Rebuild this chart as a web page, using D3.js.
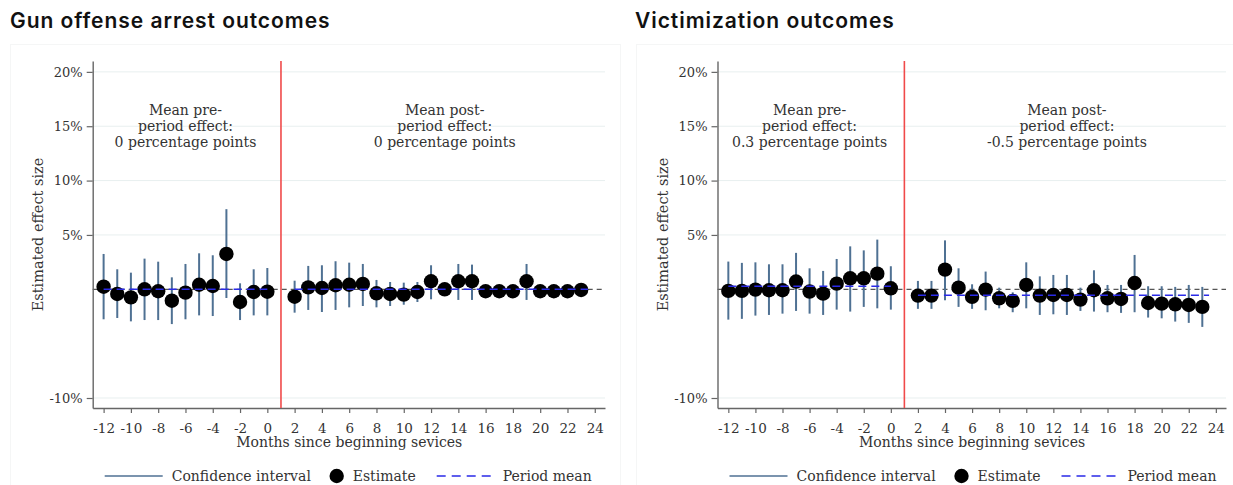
<!DOCTYPE html>
<html>
<head>
<meta charset="utf-8">
<script src="https://cdn.jsdelivr.net/npm/d3@7"></script>
<style>
  html, body { margin: 0; padding: 0; background: #fff; }
  svg { display: block; }
</style>
</head>
<body>
<svg id="chart" width="1233" height="485"></svg>
<script>
// ---------------- DATA ----------------
const months = [-12,-11,-10,-9,-8,-7,-6,-5,-4,-3,-2,-1,0,
                2,3,4,5,6,7,8,9,10,11,12,13,14,15,16,17,18,19,20,21,22,23];
const xTickValues = [-12,-10,-8,-6,-4,-2,0,2,4,6,8,10,12,14,16,18,20,22,24];
const yTickValues = [20,15,10,5,-10];
const treatmentMonth = 1;
const periodRanges = [[-12, 0], [2, 23.5]];

// Gun offense arrest outcomes (percentage points)
const gunEstimate = [0.24,-0.43,-0.74,0.0,-0.18,-1.05,-0.31,0.42,0.30,3.25,-1.17,-0.25,-0.22,
  -0.68,0.18,0.12,0.37,0.42,0.49,-0.37,-0.43,-0.49,-0.25,0.74,0.0,0.74,0.74,-0.18,-0.18,-0.18,0.74,-0.18,-0.18,-0.18,-0.06];
const gunLower = [-2.76,-2.64,-2.95,-2.83,-2.83,-3.2,-2.76,-2.4,-2.46,-0.8,-2.83,-2.4,-2.4,
  -2.15,-1.9,-2.09,-1.9,-1.66,-1.54,-1.66,-1.54,-1.42,-1.17,-0.92,-0.6,-0.98,-0.98,-0.7,-0.7,-0.7,-0.98,-0.7,-0.7,-0.7,-0.6];
const gunUpper = [3.25,1.84,1.53,2.82,2.54,1.1,2.33,3.31,3.13,7.37,0.55,1.84,1.96,
  0.79,2.15,2.21,2.58,2.45,2.33,0.86,0.67,0.61,0.67,2.21,0.6,2.33,2.27,0.4,0.4,0.4,2.33,0.4,0.4,0.4,0.5];
const gunPeriodMeans = [0.0, 0.0];
const gunMeanLabels = ["0 percentage points", "0 percentage points"];

// Victimization outcomes (percentage points)
const vicEstimate = [-0.15,-0.15,-0.03,-0.09,-0.09,0.71,-0.21,-0.4,0.52,1.01,1.01,1.44,0.09,
  -0.58,-0.58,1.81,0.15,-0.7,-0.03,-0.83,-1.07,0.4,-0.58,-0.52,-0.52,-0.95,-0.09,-0.83,-0.89,0.58,-1.26,-1.32,-1.38,-1.44,-1.62];
const vicLower = [-2.79,-2.72,-2.42,-2.36,-2.24,-1.99,-2.24,-2.36,-1.87,-2.05,-1.62,-1.75,-1.87,
  -1.8,-1.8,-1.01,-1.62,-1.8,-1.93,-1.75,-2.11,-1.75,-2.36,-2.3,-2.36,-1.99,-2.05,-2.11,-2.17,-2.11,-2.6,-2.67,-2.97,-3.09,-3.46];
const vicUpper = [2.55,2.43,2.48,2.3,2.3,3.35,1.93,1.69,2.79,3.95,3.58,4.57,2.12,
  0.77,0.77,4.5,1.93,0.46,1.63,0.15,-0.28,2.48,1.19,1.32,1.32,0.15,1.75,0.4,0.4,3.16,0.28,0.28,0.22,0.4,0.22];
const vicPeriodMeans = [0.28, -0.55];
const vicMeanLabels = ["0.3 percentage points", "-0.5 percentage points"];

const titles = ["Gun offense arrest outcomes", "Victimization outcomes"];
const yAxisTitle = "Estimated effect size";
const xAxisTitle = "Months since beginning sevices";
const legendLabels = ["Confidence interval", "Estimate", "Period mean"];

// ---------------- STYLE ----------------
const SERIF = "'DejaVu Serif', 'Liberation Serif', serif";
const SANS = "Inter, 'Open Sans', sans-serif";
const TXT = "#333";
const CI_COLOR = "#4f7193";
const MEAN_COLOR = "#2a2ae8";
const RED = "#f04a4a";

const svg = d3.select("#chart");

const panels = [
  { title: titles[0], est: gunEstimate, lo: gunLower, hi: gunUpper, means: gunPeriodMeans, labels: gunMeanLabels,
    boxX: 10, boxW: 610, titleX: 10, axisX: 92.7, right: 605 },
  { title: titles[1], est: vicEstimate, lo: vicLower, hi: vicUpper, means: vicPeriodMeans, labels: vicMeanLabels,
    boxX: 636, boxW: 620, titleX: 635, axisX: 717.5, right: 1226 }
];

const plotTop = 61, plotBottom = 408;

panels.forEach(p => {
  const g = svg.append("g");

  // faint outer frame
  g.append("rect").attr("x", p.boxX + 0.5).attr("y", 44.5).attr("width", p.boxW).attr("height", 460)
    .attr("fill", "none").attr("stroke", "#f5f6f6").attr("stroke-width", 1);

  // title
  g.append("text").attr("x", p.titleX).attr("y", 28)
    .attr("font-family", SANS).attr("font-weight", 600).attr("font-size", 21)
    .attr("letter-spacing", 0.95)
    .attr("fill", "#111").text(p.title);

  const x = d3.scaleLinear().domain([-12.8, 24.75]).range([p.axisX, p.right]);
  const y = d3.scaleLinear().domain([-10.92, 21.0]).range([plotBottom, plotTop]);

  // gridlines
  g.append("g").selectAll("line").data(yTickValues).join("line")
    .attr("x1", p.axisX).attr("x2", p.right)
    .attr("y1", d => y(d)).attr("y2", d => y(d))
    .attr("stroke", "#e8efef").attr("stroke-width", 1);

  // zero reference line
  g.append("line").attr("x1", p.axisX).attr("x2", p.right)
    .attr("y1", y(0)).attr("y2", y(0))
    .attr("stroke", "#555").attr("stroke-width", 1.3).attr("stroke-dasharray", "5,4");

  // y axis
  const yAxis = d3.axisLeft(y).tickValues(yTickValues).tickFormat(d => String(d) + "%").tickSize(6).tickSizeOuter(0).tickPadding(4);
  const ya = g.append("g").attr("transform", `translate(${p.axisX},0)`).call(yAxis);
  ya.select(".domain").attr("stroke", "#666").attr("stroke-width", 1.4);
  ya.selectAll(".tick line").attr("stroke", "#666").attr("stroke-width", 1.2);
  ya.selectAll(".tick text").attr("font-family", SERIF).attr("font-size", 13).attr("fill", TXT);

  // x axis
  const xAxis = d3.axisBottom(x).tickValues(xTickValues).tickFormat(d => String(d)).tickSize(5).tickSizeOuter(0).tickPadding(10);
  const xa = g.append("g").attr("transform", `translate(0,${plotBottom})`).call(xAxis);
  xa.select(".domain").attr("stroke", "#666").attr("stroke-width", 1.4);
  xa.selectAll(".tick line").attr("stroke", "#666").attr("stroke-width", 1.2);
  xa.selectAll(".tick text").attr("font-family", SERIF).attr("font-size", 13.5).attr("fill", TXT);

  // axis titles
  g.append("text").attr("x", (x(-12) + x(24)) / 2).attr("y", 447)
    .attr("text-anchor", "middle").attr("font-family", SERIF).attr("font-size", 14).attr("fill", TXT)
    .text(xAxisTitle);
  g.append("text").attr("transform", `translate(${p.axisX - 50},${(plotTop + plotBottom) / 2 + 0}) rotate(-90)`)
    .attr("text-anchor", "middle").attr("font-family", SERIF).attr("font-size", 14.5).attr("fill", TXT)
    .text(yAxisTitle);

  // treatment line
  g.append("line").attr("x1", x(treatmentMonth)).attr("x2", x(treatmentMonth))
    .attr("y1", plotTop).attr("y2", plotBottom)
    .attr("stroke", RED).attr("stroke-width", 1.6);

  const rows = months.map((m, i) => ({ m, est: p.est[i], lo: p.lo[i], hi: p.hi[i] }));

  // confidence intervals
  g.append("g").selectAll("line").data(rows).join("line")
    .attr("x1", d => x(d.m)).attr("x2", d => x(d.m))
    .attr("y1", d => y(d.lo)).attr("y2", d => y(d.hi))
    .attr("stroke", CI_COLOR).attr("stroke-width", 2);

  // estimates
  g.append("g").selectAll("circle").data(rows).join("circle")
    .attr("cx", d => x(d.m)).attr("cy", d => y(d.est)).attr("r", 7.2)
    .attr("fill", "#000");

  // period means
  g.append("g").selectAll("line").data(periodRanges).join("line")
    .attr("x1", d => x(d[0])).attr("x2", d => x(d[1]))
    .attr("y1", (d, i) => y(p.means[i])).attr("y2", (d, i) => y(p.means[i]))
    .attr("stroke", MEAN_COLOR).attr("stroke-width", 1.5).attr("stroke-dasharray", "8,5");

  // annotations
  const annX = [-6, 13];
  const annHead = [["Mean pre-", "period effect:"], ["Mean post-", "period effect:"]];
  annX.forEach((ax, i) => {
    const t = g.append("text").attr("text-anchor", "middle").attr("font-family", SERIF)
      .attr("font-size", 14).attr("fill", TXT);
    [annHead[i][0], annHead[i][1], p.labels[i]].forEach((line, j) => {
      t.append("tspan").attr("x", x(ax)).attr("y", 115 + j * 16).text(line);
    });
  });

  // legend
  const ly = 476;
  const lx = p.axisX;
  g.append("line").attr("x1", lx + 12).attr("x2", lx + 70).attr("y1", ly).attr("y2", ly)
    .attr("stroke", CI_COLOR).attr("stroke-width", 1.6);
  g.append("text").attr("x", lx + 79).attr("y", ly + 5).attr("font-family", SERIF).attr("font-size", 14)
    .attr("fill", TXT).text(legendLabels[0]);
  g.append("circle").attr("cx", lx + 244).attr("cy", ly).attr("r", 7.2).attr("fill", "#000");
  g.append("text").attr("x", lx + 260).attr("y", ly + 5).attr("font-family", SERIF).attr("font-size", 14)
    .attr("fill", TXT).text(legendLabels[1]);
  g.append("line").attr("x1", lx + 344).attr("x2", lx + 402).attr("y1", ly).attr("y2", ly)
    .attr("stroke", MEAN_COLOR).attr("stroke-width", 1.5).attr("stroke-dasharray", "9,6");
  g.append("text").attr("x", lx + 410).attr("y", ly + 5).attr("font-family", SERIF).attr("font-size", 14)
    .attr("fill", TXT).text(legendLabels[2]);
});
</script>
</body>
</html>
